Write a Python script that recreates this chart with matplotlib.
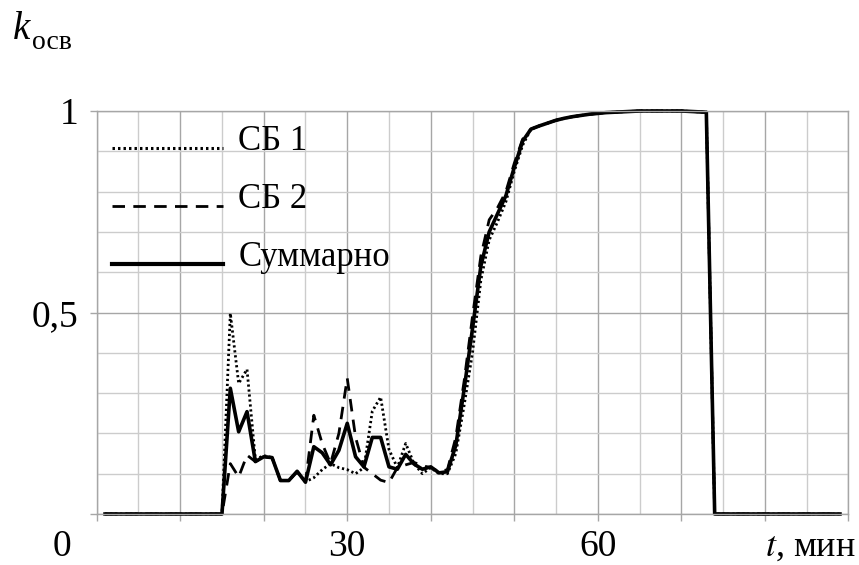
import matplotlib.pyplot as plt
from matplotlib.ticker import MultipleLocator
from matplotlib.legend_handler import HandlerLine2D

plt.rcParams['font.family'] = ['Liberation Serif', 'DejaVu Serif']

# time, minutes
t = list(range(1, 90))

# idle part before start-up (1..15 min) and after shutdown (74..89 min)
idle_start = [0, 0, 0, 0, 0, 0, 0, 0, 0, 0, 0, 0, 0, 0, 0]
idle_end = [0, 0, 0, 0, 0, 0, 0, 0, 0, 0, 0, 0, 0, 0, 0, 0]

# 16..52 min, each block
sb1_run = [0.498, 0.324, 0.359, 0.135, 0.145, 0.14, 0.083, 0.083, 0.105, 0.08,
           0.09, 0.11, 0.125, 0.115, 0.11, 0.10, 0.115, 0.255, 0.29, 0.16,
           0.115, 0.175, 0.125, 0.10, 0.115, 0.10, 0.10, 0.15, 0.27, 0.40,
           0.58, 0.68, 0.725, 0.775, 0.85, 0.915, 0.955]
sb2_run = [0.125, 0.092, 0.146, 0.13, 0.142, 0.14, 0.083, 0.083, 0.105, 0.079,
           0.245, 0.175, 0.125, 0.20, 0.337, 0.19, 0.116, 0.10, 0.084, 0.078,
           0.115, 0.122, 0.128, 0.12, 0.115, 0.105, 0.11, 0.19, 0.33, 0.49,
           0.64, 0.73, 0.76, 0.80, 0.87, 0.93, 0.955]
sum_run = [0.312, 0.204, 0.254, 0.13, 0.142, 0.14, 0.083, 0.083, 0.106, 0.079,
           0.167, 0.152, 0.122, 0.158, 0.225, 0.142, 0.117, 0.19, 0.19, 0.117,
           0.111, 0.148, 0.124, 0.111, 0.117, 0.102, 0.105, 0.17, 0.31, 0.46,
           0.615, 0.70, 0.745, 0.79, 0.86, 0.925, 0.955]

# 53..73 min, all curves coincide
plateau = [0.963, 0.97, 0.977, 0.982, 0.986, 0.989, 0.992, 0.994, 0.996, 0.997,
           0.998, 0.999, 1.0, 1.0, 1.0, 1.0, 1.0, 1.0, 0.999, 0.998, 0.997]

sb1 = idle_start + sb1_run + plateau + idle_end
sb2 = idle_start + sb2_run + plateau + idle_end
total = idle_start + sum_run + plateau + idle_end


class BaselineLine(HandlerLine2D):
    # put the legend sample on the text baseline instead of its middle
    def create_artists(self, legend, orig_handle, xdescent, ydescent,
                       width, height, fontsize, trans):
        arts = super().create_artists(legend, orig_handle, xdescent, ydescent,
                                      width, height, fontsize, trans)
        for a in arts:
            a.set_ydata([y - 0.3 * fontsize for y in a.get_ydata()])
        return arts


fig = plt.figure(figsize=(8.59, 5.65), dpi=100)
ax = fig.add_axes([96.7 / 859, 1 - 514 / 565, 751.6 / 859, 403 / 565])

ax.plot(t, sb1, color='black', lw=2.0, linestyle=(0, (0.8, 1.0)), label='СБ 1', clip_on=False)
ax.plot(t, sb2, color='black', lw=2.0, linestyle=(0, (4.5, 3)), label='СБ 2', clip_on=False)
ax.plot(t, total, color='black', lw=2.6, label='Суммарно', clip_on=False)

ax.set_xlim(0, 90)
ax.set_ylim(0, 1)

ax.xaxis.set_major_locator(MultipleLocator(10))
ax.xaxis.set_minor_locator(MultipleLocator(5))
ax.yaxis.set_major_locator(MultipleLocator(0.5))
ax.yaxis.set_minor_locator(MultipleLocator(0.1))

ax.grid(which='major', color='#a6a6a6', lw=1.0)
ax.grid(which='minor', color='#cccccc', lw=1.0)
ax.set_axisbelow(True)
for side in ax.spines.values():
    side.set_color('#a6a6a6')
    side.set_linewidth(1.0)

ax.tick_params(which='major', direction='out', length=5, width=1, color='#a6a6a6')
ax.tick_params(which='minor', length=0)
ax.tick_params(axis='x', labelsize=27, pad=6)
ax.tick_params(axis='y', labelsize=27, pad=8)

ax.set_xticks([0, 10, 20, 30, 40, 50, 60, 70, 80, 90])
ax.set_xticklabels(['', '', '', '30', '', '', '60', '', '', ''])
ax.set_yticks([0, 0.5, 1])
ax.set_yticklabels(['', '0,5', '1'])

# origin and axis names
fig.text(62 / 859, 1 - 547 / 565, '0', fontsize=27, ha='center', va='center')
fig.text(856 / 859, 1 - 547 / 565, '$t$, мин', fontsize=26, ha='right', va='center',
         math_fontfamily='stix')
fig.text(13 / 859, 1 - 39 / 565, 'k', fontsize=28, style='italic', ha='left', va='baseline')
fig.text(32 / 859, 1 - 49 / 565, 'осв', fontsize=20, ha='left', va='baseline')

leg = ax.legend(loc='upper left', bbox_to_anchor=(0.02, 0.965), frameon=False, fontsize=25,
                handlelength=3.2, handletextpad=0.45, labelspacing=0.72, borderpad=0,
                borderaxespad=0, handler_map={plt.Line2D: BaselineLine()})
for ln, w in zip(leg.get_lines(), [2.2, 2.0, 3.0]):
    ln.set_linewidth(w)

fig.savefig('out.png', dpi=100)
